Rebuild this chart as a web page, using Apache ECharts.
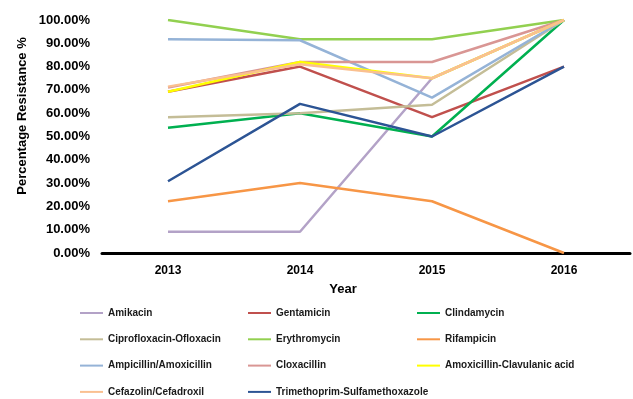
<!DOCTYPE html>
<html><head><meta charset="utf-8">
<script src="https://cdn.jsdelivr.net/npm/echarts@6/dist/echarts.min.js"></script>
<style>html,body{margin:0;padding:0;background:#fff}#c{width:633px;height:399px}</style>
</head><body><div id="c"></div>
<script>
const years = ['2013','2014','2015','2016'];
const yTicks = [0,10,20,30,40,50,60,70,80,90,100];
const names = ['Amikacin','Gentamicin','Clindamycin','Ciprofloxacin-Ofloxacin','Erythromycin','Rifampicin','Ampicillin/Amoxicillin','Cloxacillin','Amoxicillin-Clavulanic acid','Cefazolin/Cefadroxil','Trimethoprim-Sulfamethoxazole'];
const amikacin = [9.1, 9.1, 75, 100];
const gentamicin = [69.2, 80, 58.3, 80];
const clindamycin = [53.8, 60, 50, 100];
const ciprofloxacin = [58.3, 60, 63.6, 100];
const erythromycin = [100, 91.7, 91.7, 100];
const rifampicin = [22.2, 30, 22.2, 0];
const ampicillin = [91.7, 91.3, 66.7, 100];
const cloxacillin = [71, 82, 82, 100];
const amoxClav = [69.2, 82, 75, 100];
const cefazolin = [71.4, 81, 75, 100];
const trimethoprim = [30.8, 64, 50, 80];
const values = [amikacin, gentamicin, clindamycin, ciprofloxacin, erythromycin, rifampicin, ampicillin, cloxacillin, amoxClav, cefazolin, trimethoprim];
const colors = ['#b3a2c7','#c0504d','#00b050','#c4bd97','#92d050','#f79646','#95b3d7','#d99694','#ffff00','#fac090','#2c5494'];

const chart = echarts.init(document.getElementById('c'));
const legendBase = {orient:'vertical', top:306, height:110, itemWidth:23, itemHeight:2, icon:'rect', itemGap:12.3, padding:0,
  textStyle:{fontFamily:'Liberation Sans', fontWeight:'bold', fontSize:10, color:'#1a1a1a', lineHeight:14}};
chart.setOption({
  animation:false,
  backgroundColor:'#fff',
  color: colors,
  grid:{left:102, right:3, top:20, bottom:146},
  xAxis:{type:'category', data:years, boundaryGap:true,
    axisLine:{lineStyle:{color:'#000', width:3}}, axisTick:{show:false},
    axisLabel:{fontFamily:'Liberation Sans', fontWeight:'bold', fontSize:12, color:'#000', margin:12}},
  yAxis:{type:'value', min:0, max:100, interval:10,
    axisLine:{show:false}, axisTick:{show:false}, splitLine:{show:false},
    axisLabel:{fontFamily:'Liberation Sans', fontWeight:'bold', fontSize:13, color:'#000', margin:12,
      formatter:v=>v.toFixed(2)+'%'}},
  title:[{text:'Year', left:338, top:278, textAlign:'center',
    textStyle:{fontFamily:'Liberation Sans', fontWeight:'bold', fontSize:13, color:'#000'}}],
  graphic:[{type:'text', x:22, y:116, rotation:Math.PI/2,
    style:{text:'Percentage Resistance %', fontFamily:'Liberation Sans', fontWeight:'bold', fontSize:13, fill:'#000', align:'center', verticalAlign:'middle'}}],
  legend:[
    Object.assign({}, legendBase, {left:80, data:[names[0],names[3],names[6],names[9]]}),
    Object.assign({}, legendBase, {left:248, data:[names[1],names[4],names[7],names[10]]}),
    Object.assign({}, legendBase, {left:417, data:[names[2],names[5],names[8]]})
  ],
  series: names.map((n,i)=>({name:n, type:'line', data:values[i], symbol:'none',
    lineStyle:{width:2.5, color:colors[i]}, itemStyle:{color:colors[i]}}))
});
</script></body></html>
